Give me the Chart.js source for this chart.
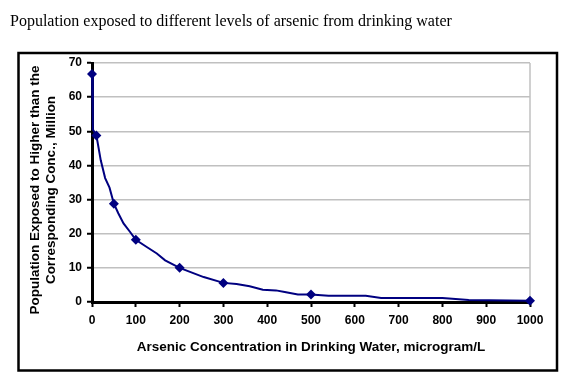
<!DOCTYPE html>
<html>
<head>
<meta charset="utf-8">
<script src="https://cdn.jsdelivr.net/npm/chart.js@4.4.0/dist/chart.umd.min.js"></script>
<style>
  html, body { margin: 0; padding: 0; background: #fff; }
  #wrap { width: 579px; height: 385px; position: relative; }
</style>
</head>
<body>
<div id="wrap"><canvas id="arsenicChart" width="579" height="385"></canvas></div>
<script>
// data
var chartTitle = "Population exposed to different levels of arsenic from drinking water";
var concentration = [0, 2, 10, 20, 30, 40, 50, 60, 72, 87, 100, 125, 148, 167, 200, 255, 300, 330, 360, 390, 420, 440, 470, 500, 540, 625, 660, 800, 860, 1000];
var population = [66.8, 50.5, 48.8, 41.5, 36.3, 33.5, 28.8, 26, 23, 20.5, 18.2, 16.1, 14.2, 12.2, 10, 7.3, 5.6, 5.3, 4.6, 3.6, 3.4, 2.9, 2.2, 2.2, 1.8, 1.8, 1.2, 1.2, 0.6, 0.4];
var markedAt = [0, 10, 50, 100, 200, 300, 500, 1000];
var xTicks = [0, 100, 200, 300, 400, 500, 600, 700, 800, 900, 1000];
var yTicks = [0, 10, 20, 30, 40, 50, 60, 70];

var points = concentration.map(function(c, i) { return { x: c, y: population[i] }; });
var radii = concentration.map(function(c) { return markedAt.indexOf(c) >= 0 ? 5 : 0; });

var lineColor = "#000080";
var tickFont = { family: "'Liberation Sans', Arial, sans-serif", size: 12, weight: "bold" };
var titleFont = { family: "'Liberation Sans', Arial, sans-serif", size: 13.5, weight: "bold", lineHeight: 1.2 };

// outer frame, page title and plot-area border
var framePlugin = {
  id: "frame",
  beforeDraw: function(chart) {
    var ctx = chart.ctx;
    ctx.save();
    ctx.fillStyle = "#fff";
    ctx.fillRect(0, 0, chart.width, chart.height);
    ctx.fillStyle = "#000";
    ctx.font = "16px 'Liberation Serif', 'Times New Roman', serif";
    ctx.textBaseline = "alphabetic";
    ctx.fillText(chartTitle, 10, 26);
    ctx.strokeStyle = "#000";
    ctx.lineWidth = 2.5;
    ctx.strokeRect(18.5, 53, 538.5, 317.5);
    ctx.restore();
  },
  beforeDatasetsDraw: function(chart) {
    var a = chart.chartArea, ctx = chart.ctx;
    ctx.save();
    ctx.strokeStyle = "#c0c0c0";
    ctx.lineWidth = 1.5;
    ctx.beginPath();
    ctx.moveTo(a.right, a.top);
    ctx.lineTo(a.right, a.bottom);
    ctx.stroke();
    ctx.restore();
  }
};

var ctx = document.getElementById("arsenicChart");
var chart = new Chart(ctx, {
  type: "line",
  data: {
    datasets: [{
      data: points,
      borderColor: lineColor,
      backgroundColor: lineColor,
      borderWidth: 2,
      fill: false,
      tension: 0,
      pointStyle: "rectRot",
      pointRadius: radii,
      pointHoverRadius: radii,
      pointBorderWidth: 0,
      clip: false
    }]
  },
  options: {
    responsive: false,
    animation: false,
    devicePixelRatio: 1,
    layout: { padding: { top: 63, right: 49, bottom: 30, left: 27 } },
    plugins: {
      legend: { display: false },
      title: { display: false },
      tooltip: { enabled: false }
    },
    scales: {
      x: {
        type: "linear",
        min: 0,
        max: 1000,
        afterBuildTicks: function(scale) { scale.ticks = xTicks.map(function(v) { return { value: v }; }); },
        afterFit: function(scale) { scale.height = 53; },
        ticks: { color: "#000", font: tickFont, padding: 6, maxRotation: 0, callback: function(v) { return String(v); } },
        grid: { drawOnChartArea: false, tickColor: "#000", tickLength: 5, tickWidth: 2 },
        border: { color: "#000", width: 3 },
        title: {
          display: true,
          text: "Arsenic Concentration in Drinking Water, microgram/L",
          color: "#000",
          font: titleFont,
          padding: { top: 8, bottom: 0 }
        }
      },
      y: {
        min: 0,
        max: 70,
        afterBuildTicks: function(scale) { scale.ticks = yTicks.map(function(v) { return { value: v }; }); },
        afterFit: function(scale) { scale.width = 65; },
        ticks: { color: "#000", font: tickFont, padding: 5 },
        grid: { color: "#c0c0c0", lineWidth: 1.5, tickColor: "#000", tickLength: 5, tickWidth: 2 },
        border: { color: "#000", width: 3 },
        title: {
          display: true,
          text: ["Population Exposed to Higher than the    ", "Corresponding Conc., Million    "],
          color: "#000",
          font: titleFont,
          padding: 0
        }
      }
    }
  },
  plugins: [framePlugin]
});
</script>
</body>
</html>
